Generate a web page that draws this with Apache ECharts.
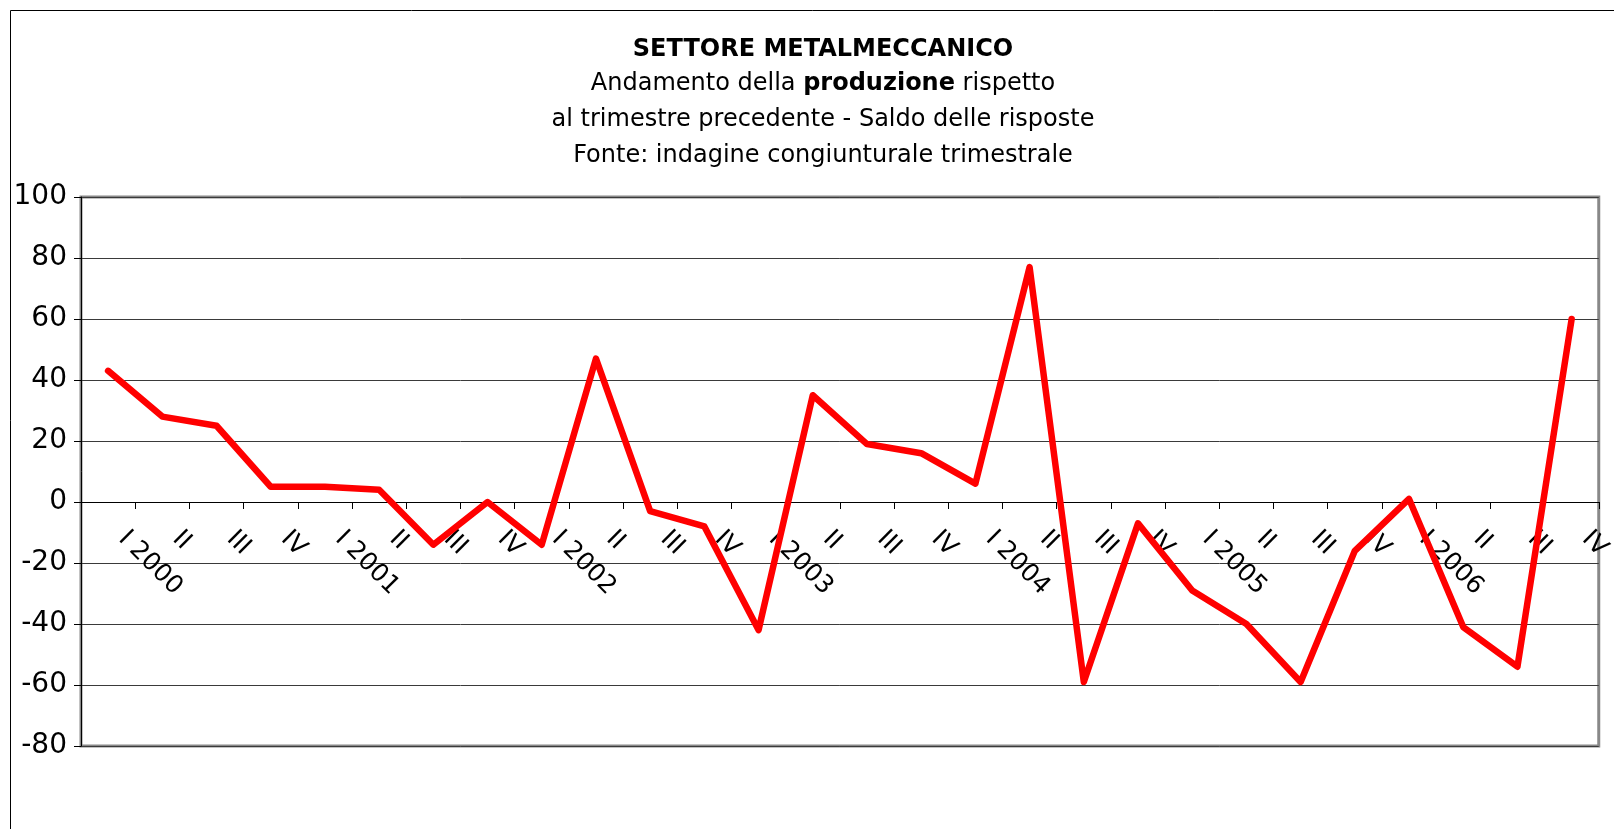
<!DOCTYPE html>
<html>
<head>
<meta charset="utf-8">
<script src="https://cdn.jsdelivr.net/npm/echarts@6/dist/echarts.min.js"></script>
<style>
  html, body { margin: 0; padding: 0; background: #fff; }
  #chart { width: 1614px; height: 829px; }
</style>
</head>
<body>
<div id="chart"></div>
<script>
// trimestri dal I 2000 al IV 2006
var trimestri = [
  'I 2000', 'II', 'III', 'IV',
  'I 2001', 'II', 'III', 'IV',
  'I 2002', 'II', 'III', 'IV',
  'I 2003', 'II', 'III', 'IV',
  'I 2004', 'II', 'III', 'IV',
  'I 2005', 'II', 'III', 'IV',
  'I 2006', 'II', 'III', 'IV'
];
// saldo delle risposte (produzione)
var saldo = [
  43, 28, 25, 5,
  5, 4, -14, 0,
  -14, 47, -3, -8,
  -42, 35, 19, 16,
  6, 77, -59, -7,
  -29, -40, -59, -16,
  1, -41, -54, 60
];
var yMin = -80, yMax = 100, yStep = 20;

var titolo = 'SETTORE METALMECCANICO';
var righe = [
  '{n|Andamento della }{b|produzione}{n| rispetto}',
  '{n|al trimestre precedente - Saldo delle risposte}',
  '{n|Fonte: indagine congiunturale trimestrale}'
];

var font = 'DejaVu Sans';
var gridTop = 197, gridBottom = 83, H = 829;
// l'asse delle categorie passa per lo zero
var plotH = H - gridTop - gridBottom;
var zeroOffset = -plotH * (0 - yMin) / (yMax - yMin);

var myChart = echarts.init(document.getElementById('chart'));

var graphics = [
  {
    type: 'rect',
    shape: { x: 10.5, y: 10.5, width: 1700, height: 900 },
    style: { fill: 'none', stroke: '#000', lineWidth: 1 },
    silent: true
  },
  {
    type: 'text',
    style: {
      text: titolo, x: 823, y: 50, align: 'center', verticalAlign: 'middle',
      fontFamily: font, fontWeight: 'bold', fontSize: 24, fill: '#000'
    }
  }
];
righe.forEach(function (r, i) {
  graphics.push({
    type: 'text',
    style: {
      text: r, x: 823, y: 84 + i * 36, align: 'center', verticalAlign: 'middle',
      rich: {
        n: { fontFamily: font, fontSize: 24, color: '#000' },
        b: { fontFamily: font, fontSize: 24, fontWeight: 'bold', color: '#000' }
      }
    }
  });
});

var option = {
  backgroundColor: '#fff',
  animation: false,
  graphic: graphics,
  grid: {
    left: 81, right: 12, top: gridTop, bottom: gridBottom,
    show: true, borderColor: '#888', borderWidth: 3
  },
  xAxis: {
    type: 'category',
    data: trimestri,
    offset: zeroOffset,
    axisLine: { onZero: false, lineStyle: { color: '#000', width: 1 } },
    axisTick: { show: true, length: 7, lineStyle: { color: '#000' } },
    axisLabel: {
      interval: 0, rotate: -45, margin: 19, padding: [0, 0, 0, 20],
      fontFamily: font, fontSize: 25, color: '#000'
    },
    splitLine: { show: false }
  },
  yAxis: {
    type: 'value',
    min: yMin, max: yMax, interval: yStep,
    axisLine: { show: true, lineStyle: { color: '#000', width: 1 } },
    axisTick: { show: true, length: 7, lineStyle: { color: '#000' } },
    axisLabel: { margin: 14, fontFamily: font, fontSize: 28, color: '#000' },
    splitLine: { show: true, lineStyle: { color: '#3a3a3a', width: 1 } }
  },
  series: [{
    type: 'line',
    data: saldo,
    showSymbol: false,
    z: 5,
    lineStyle: { color: '#ff0000', width: 6.5, join: 'round', cap: 'round' }
  }]
};
myChart.setOption(option);
</script>
</body>
</html>
